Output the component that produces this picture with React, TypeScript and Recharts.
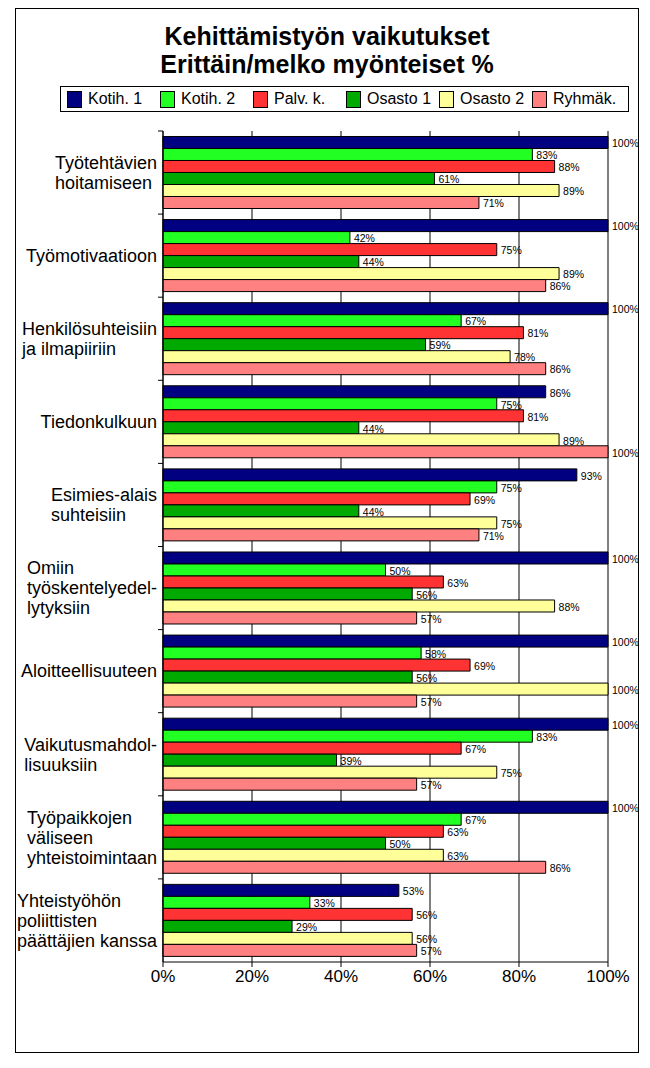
import { BarChart, Bar, XAxis, YAxis, CartesianGrid, LabelList } from 'recharts';

// categories (line breaks as in the original labels)
const categories = [
  'Työtehtävien\nhoitamiseen',
  'Työmotivaatioon',
  'Henkilösuhteisiin\nja ilmapiiriin',
  'Tiedonkulkuun',
  'Esimies-alais\nsuhteisiin',
  'Omiin\ntyöskentelyedel-\nlytyksiin',
  'Aloitteellisuuteen',
  'Vaikutusmahdol-\nlisuuksiin',
  'Työpaikkojen\nväliseen\nyhteistoimintaan',
  'Yhteistyöhön\npoliittisten\npäättäjien kanssa',
];

const kotih1 = [100, 100, 100, 86, 93, 100, 100, 100, 100, 53];
const kotih2 = [83, 42, 67, 75, 75, 50, 58, 83, 67, 33];
const palvK = [88, 75, 81, 81, 69, 63, 69, 67, 63, 56];
const osasto1 = [61, 44, 59, 44, 44, 56, 56, 39, 50, 29];
const osasto2 = [89, 89, 78, 89, 75, 88, 100, 75, 63, 56];
const ryhmak = [71, 86, 86, 100, 71, 57, 57, 57, 86, 57];

const xTicks = [0, 20, 40, 60, 80, 100];

const series = [
  { key: 'k1', name: 'Kotih. 1', color: '#000080', values: kotih1 },
  { key: 'k2', name: 'Kotih. 2', color: '#22ff22', values: kotih2 },
  { key: 'pk', name: 'Palv. k.', color: '#ff3333', values: palvK },
  { key: 'o1', name: 'Osasto 1', color: '#00aa00', values: osasto1 },
  { key: 'o2', name: 'Osasto 2', color: '#ffff99', values: osasto2 },
  { key: 'rk', name: 'Ryhmäk.', color: '#ff8080', values: ryhmak },
];

const data = categories.map((name, i) => {
  const row: any = { name };
  series.forEach((s) => { row[s.key] = s.values[i]; });
  return row;
});

const FONT = 'Arial, "Liberation Sans", sans-serif';
const LABEL_FONT = `18px ${FONT}`;
const PLOT_H = 831;

let ctx: CanvasRenderingContext2D | null = null;
const textWidth = (t: string) => {
  if (!ctx) ctx = document.createElement('canvas').getContext('2d');
  ctx!.font = LABEL_FONT;
  return ctx!.measureText(t).width;
};

const CategoryTick = (props: any) => {
  const { x, y, payload } = props;
  const lines = String(payload.value).split('\n');
  const w = Math.max(...lines.map(textWidth));
  const lh = 20;
  const top = y - ((lines.length - 1) * lh) / 2;
  const axisX = x + 6;
  const band = PLOT_H / categories.length;
  return (
    <g>
      <line x1={axisX - 5} x2={axisX} y1={y - band / 2} y2={y - band / 2} stroke="#000" />
      <text fill="#000" style={{ font: LABEL_FONT }}>
        {lines.map((l, i) => (
          <tspan key={i} x={x - w} y={top + i * lh} dy="0.35em">{l}</tspan>
        ))}
      </text>
    </g>
  );
};

const Legend = () => (
  <div style={{
    position: 'absolute', left: 44, top: 77, width: 561, height: 24,
    border: '1px solid #000', display: 'flex', alignItems: 'center',
    paddingLeft: 6, boxSizing: 'content-box', fontSize: 16,
  }}>
    {series.map((s) => (
      <div key={s.key} style={{ width: 93, display: 'flex', alignItems: 'center' }}>
        <span style={{
          width: 13, height: 15, background: s.color, border: '1px solid #000',
          marginRight: 6, display: 'inline-block', flexShrink: 0,
        }} />
        <span style={{ whiteSpace: 'nowrap' }}>{s.name}</span>
      </div>
    ))}
  </div>
);

export default function App() {
  return (
    <div style={{
      position: 'relative', marginLeft: 7, width: 622, height: 1043,
      border: '1px solid #000', fontFamily: FONT, color: '#000', background: '#fff',
    }}>
      <div style={{
        position: 'absolute', left: 0, right: 0, top: 13, textAlign: 'center',
        fontWeight: 'bold', fontSize: 25, lineHeight: '28px',
      }}>
        Kehittämistyön vaikutukset<br />Erittäin/melko myönteiset %
      </div>
      <Legend />
      <BarChart
        width={622}
        height={1043}
        data={data}
        layout="vertical"
        margin={{ top: 122, right: 30, bottom: 60, left: 0 }}
        barCategoryGap="6.6%"
        barGap={0}
        style={{ fontFamily: FONT }}
      >
        <CartesianGrid horizontal={false} vertical stroke="#000" />
        <XAxis
          type="number"
          domain={[0, 100]}
          ticks={xTicks}
          interval={0}
          tickFormatter={(v) => `${v}%`}
          tick={{ fill: '#000', fontSize: 17 }}
          tickSize={5}
          tickMargin={3}
          stroke="#000"
          height={30}
        />
        <XAxis
          xAxisId="top"
          orientation="top"
          type="number"
          domain={[0, 100]}
          tick={false}
          tickLine={false}
          stroke="#808080"
          height={0}
        />
        <YAxis
          type="category"
          dataKey="name"
          width={147}
          tick={<CategoryTick />}
          tickLine={false}
          tickSize={0}
          tickMargin={6}
          interval={0}
          stroke="#000"
        />
        {series.map((s) => (
          <Bar
            key={s.key}
            dataKey={s.key}
            name={s.name}
            fill={s.color}
            stroke="#000"
            strokeWidth={1}
            isAnimationActive={false}
          >
            <LabelList
              dataKey={s.key}
              position="right"
              offset={4}
              formatter={(v: any) => `${v}%`}
              style={{ fontSize: 10.5, fill: '#000', transform: 'translateY(1px)' }}
            />
          </Bar>
        ))}
      </BarChart>
    </div>
  );
}
